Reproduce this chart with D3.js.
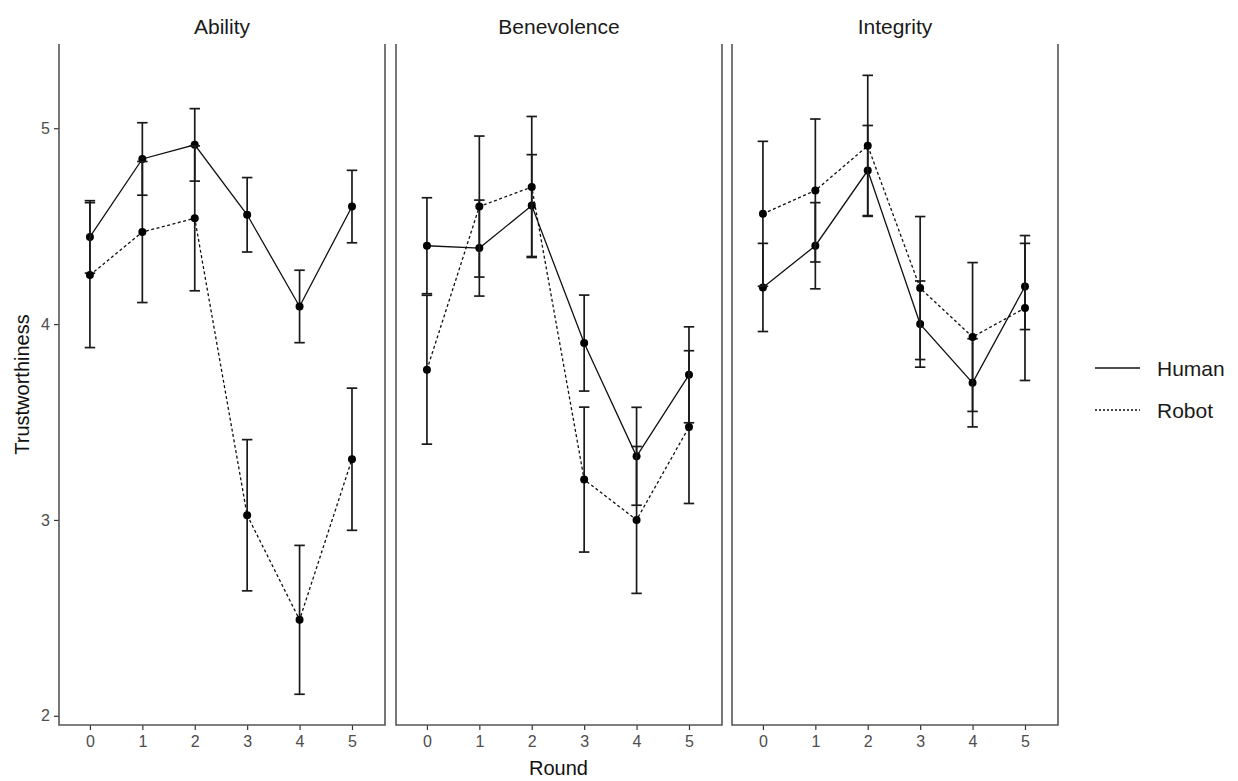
<!DOCTYPE html>
<html>
<head>
<meta charset="utf-8">
<script src="https://d3js.org/d3.v7.min.js"></script>
<style>
  body { margin: 0; background: #fff; }
  text { font-family: "Liberation Sans", Arial, sans-serif; }
</style>
</head>
<body>
<script>
// data
const rounds = [0, 1, 2, 3, 4, 5];
const facets = ["Ability", "Benevolence", "Integrity"];
const groups = ["Human", "Robot"];

const abilityHuman = [4.445, 4.843, 4.915, 4.558, 4.09, 4.60];
const abilityHumanErr = [0.185, 0.185, 0.185, 0.19, 0.185, 0.185];
const abilityRobot = [4.25, 4.47, 4.54, 3.024, 2.49, 3.31];
const abilityRobotErr = [0.37, 0.36, 0.37, 0.386, 0.38, 0.363];

const benevolenceHuman = [4.40, 4.388, 4.605, 3.903, 3.325, 3.741];
const benevolenceHumanErr = [0.245, 0.245, 0.26, 0.245, 0.25, 0.245];
const benevolenceRobot = [3.767, 4.60, 4.70, 3.206, 3.0, 3.474];
const benevolenceRobotErr = [0.38, 0.36, 0.36, 0.37, 0.375, 0.39];

const integrityHuman = [4.187, 4.40, 4.784, 4.0, 3.70, 4.192];
const integrityHumanErr = [0.225, 0.22, 0.23, 0.22, 0.225, 0.22];
const integrityRobot = [4.563, 4.682, 4.91, 4.184, 3.934, 4.082];
const integrityRobotErr = [0.37, 0.365, 0.36, 0.365, 0.38, 0.37];

const yTicks = [2, 3, 4, 5];

const series = {
  Ability: { Human: [abilityHuman, abilityHumanErr], Robot: [abilityRobot, abilityRobotErr] },
  Benevolence: { Human: [benevolenceHuman, benevolenceHumanErr], Robot: [benevolenceRobot, benevolenceRobotErr] },
  Integrity: { Human: [integrityHuman, integrityHumanErr], Robot: [integrityRobot, integrityRobotErr] }
};

const WIDTH = 1238, HEIGHT = 781;
const TOP = 44, BOTTOM = 725;
const panelLeft = [59, 396, 732];
const PANEL_W = 326;
const dashes = { Human: null, Robot: "3,2.5" };
const fmt = d3.format("d");

const svg = d3.select("body").append("svg")
  .attr("width", WIDTH)
  .attr("height", HEIGHT);

const y = d3.scaleLinear().domain([1.953, 5.43]).range([BOTTOM, TOP]);

facets.forEach(function(f, i) {
  const x = d3.scaleLinear().domain([-0.59, 5.63]).range([panelLeft[i], panelLeft[i] + PANEL_W]);
  const g = svg.append("g");

  // strip title
  g.append("text")
    .attr("x", panelLeft[i] + PANEL_W / 2)
    .attr("y", 34)
    .attr("text-anchor", "middle")
    .attr("font-size", "21px")
    .attr("fill", "#1a1a1a")
    .text(f);

  // x axis
  const xAxis = g.append("g")
    .attr("transform", "translate(0," + BOTTOM + ")")
    .call(d3.axisBottom(x).tickValues(rounds).tickFormat(fmt).tickSize(5).tickPadding(6).tickSizeOuter(0));
  xAxis.select(".domain").remove();
  xAxis.selectAll("line").attr("stroke", "#333").attr("stroke-width", 1.2);
  xAxis.selectAll("text").attr("font-size", "16px").attr("fill", "#4d4d4d")
    .attr("font-family", "Liberation Sans, Arial, sans-serif");

  if (i === 0) {
    const yAxis = g.append("g")
      .attr("transform", "translate(" + panelLeft[i] + ",0)")
      .call(d3.axisLeft(y).tickValues(yTicks).tickFormat(fmt).tickSize(5).tickPadding(4).tickSizeOuter(0));
    yAxis.select(".domain").remove();
    yAxis.selectAll("line").attr("stroke", "#333").attr("stroke-width", 1.2);
    yAxis.selectAll("text").attr("font-size", "16px").attr("fill", "#4d4d4d")
      .attr("font-family", "Liberation Sans, Arial, sans-serif");
  }

  // panel frame: left, right, bottom
  const frame = d3.path();
  frame.moveTo(panelLeft[i], TOP);
  frame.lineTo(panelLeft[i], BOTTOM);
  frame.lineTo(panelLeft[i] + PANEL_W, BOTTOM);
  frame.lineTo(panelLeft[i] + PANEL_W, TOP);
  g.append("path")
    .attr("d", frame.toString())
    .attr("fill", "none")
    .attr("stroke", "#555")
    .attr("stroke-width", 1.6);

  groups.forEach(function(grp) {
    const means = series[f][grp][0];
    const errs = series[f][grp][1];
    const pts = rounds.map(function(r, k) { return { r: r, m: means[k], e: errs[k] }; });

    const line = d3.line().x(d => x(d.r)).y(d => y(d.m));
    g.append("path")
      .datum(pts)
      .attr("d", line)
      .attr("fill", "none")
      .attr("stroke", "#111")
      .attr("stroke-width", 1.3)
      .attr("stroke-dasharray", dashes[grp]);

    const bars = g.append("g").selectAll("g").data(pts).enter().append("g");
    bars.append("line")
      .attr("x1", d => x(d.r)).attr("x2", d => x(d.r))
      .attr("y1", d => y(d.m - d.e)).attr("y2", d => y(d.m + d.e));
    bars.append("line")
      .attr("x1", d => x(d.r - 0.1)).attr("x2", d => x(d.r + 0.1))
      .attr("y1", d => y(d.m - d.e)).attr("y2", d => y(d.m - d.e));
    bars.append("line")
      .attr("x1", d => x(d.r - 0.1)).attr("x2", d => x(d.r + 0.1))
      .attr("y1", d => y(d.m + d.e)).attr("y2", d => y(d.m + d.e));
    bars.selectAll("line").attr("stroke", "#1a1a1a").attr("stroke-width", 1.7);

    g.append("g").selectAll("circle").data(pts).enter().append("circle")
      .attr("cx", d => x(d.r))
      .attr("cy", d => y(d.m))
      .attr("r", 4)
      .attr("fill", "#000");
  });
});

// axis titles
svg.append("text")
  .attr("x", (panelLeft[0] + panelLeft[2] + PANEL_W) / 2)
  .attr("y", 775)
  .attr("text-anchor", "middle")
  .attr("font-size", "20px")
  .attr("fill", "#111")
  .text("Round");

svg.append("text")
  .attr("transform", "translate(29," + ((TOP + BOTTOM) / 2) + ") rotate(-90)")
  .attr("text-anchor", "middle")
  .attr("font-size", "20px")
  .attr("fill", "#111")
  .text("Trustworthiness");

// legend
const legend = svg.append("g");
groups.forEach(function(grp, k) {
  const ly = 368 + k * 42;
  legend.append("line")
    .attr("x1", 1095).attr("x2", 1140)
    .attr("y1", ly).attr("y2", ly)
    .attr("stroke", "#111")
    .attr("stroke-width", 1.3)
    .attr("stroke-dasharray", grp === "Robot" ? "2,2" : null);
  legend.append("text")
    .attr("x", 1157)
    .attr("y", ly + 8)
    .attr("font-size", "21px")
    .attr("fill", "#1a1a1a")
    .text(grp);
});
</script>
</body>
</html>
